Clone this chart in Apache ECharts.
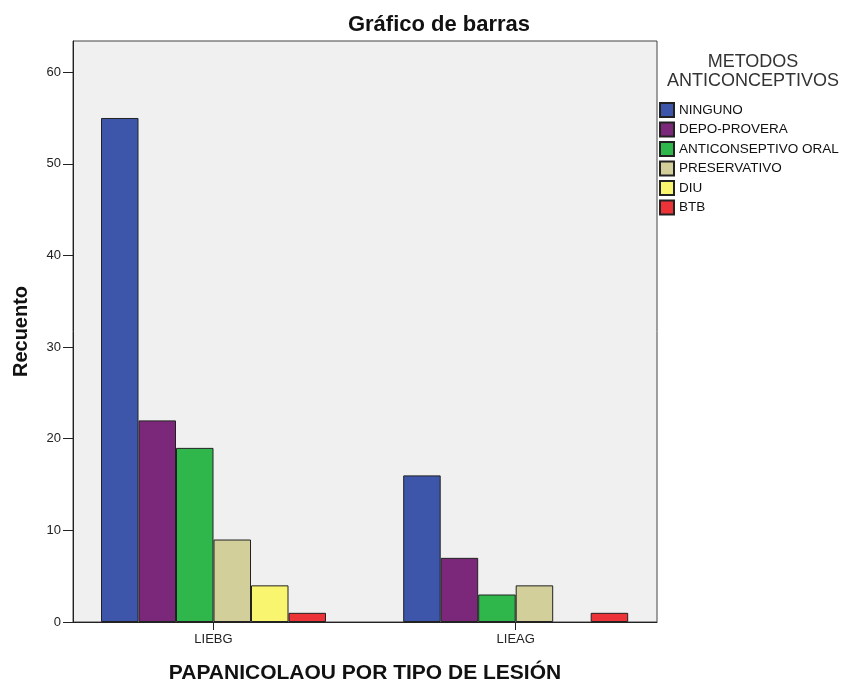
<!DOCTYPE html>
<html>
<head>
<meta charset="utf-8">
<script src="https://cdn.jsdelivr.net/npm/echarts@6/dist/echarts.min.js"></script>
<style>
html,body{margin:0;padding:0;background:#fff;}
#chart{width:849px;height:682px;}
</style>
</head>
<body>
<div id="chart"></div>
<script>
var categories = ['LIEBG', 'LIEAG'];
var seriesNames = ['NINGUNO', 'DEPO-PROVERA', 'ANTICONSEPTIVO ORAL', 'PRESERVATIVO', 'DIU', 'BTB'];
var ninguno = [55, 16];
var depoProvera = [22, 7];
var anticonseptivoOral = [19, 3];
var preservativo = [9, 4];
var diu = [4, null];
var btb = [1, 1];
var yTicks = [0, 10, 20, 30, 40, 50, 60];

var seriesData = [ninguno, depoProvera, anticonseptivoOral, preservativo, diu, btb];
var colors = ['#3d56a9', '#7c287a', '#2fb74b', '#d3cf9b', '#f9f56f', '#ec3338'];
var FONT = 'Arial, "Liberation Sans", sans-serif';

var chart = echarts.init(document.getElementById('chart'));
var option = {
  animation: false,
  textStyle: { fontFamily: FONT },
  title: [
    { text: 'Gráfico de barras', left: 434, textAlign: 'center', top: 9,
      textStyle: { fontSize: 22, fontWeight: 'bold', color: '#111', fontFamily: FONT } },
    { text: 'METODOS\nANTICONCEPTIVOS', left: 753, textAlign: 'center', top: 53, padding: 0,
      textStyle: { fontSize: 18, fontWeight: 'normal', color: '#333', lineHeight: 19, fontFamily: FONT } }
  ],
  legend: {
    orient: 'vertical', left: 659, top: 102, padding: 0,
    itemWidth: 14, itemHeight: 14, itemGap: 3.5,
    icon: 'rect',
    textStyle: { fontSize: 13.5, lineHeight: 14, color: '#111', fontFamily: FONT },
    data: seriesNames
  },
  grid: [
    { left: 73, right: 192, top: 41, bottom: 60, show: true, outerBoundsMode: 'none', containLabel: false,
      backgroundColor: '#f0f0f0', borderColor: '#444', borderWidth: 1 },
    { left: 62.4, right: 182.2, top: 41, bottom: 60, show: false, outerBoundsMode: 'none', containLabel: false }
  ],
  xAxis: [
    { gridIndex: 0, type: 'category', data: categories,
      axisLine: { show: true, lineStyle: { color: '#222', width: 1 } },
      axisTick: { show: false }, axisLabel: { show: false },
      name: 'PAPANICOLAOU POR TIPO DE LESIÓN', nameLocation: 'middle', nameGap: 41,
      nameTextStyle: { fontSize: 21, fontWeight: 'bold', color: '#111', fontFamily: FONT } },
    { gridIndex: 1, type: 'category', data: categories,
      axisLine: { show: false },
      axisTick: { show: true, alignWithLabel: true, length: 8, lineStyle: { color: '#222' } },
      axisLabel: { fontSize: 13, color: '#222', margin: 11, fontFamily: FONT } }
  ],
  yAxis: [
    { gridIndex: 0, type: 'value', min: 0, max: 63.4, interval: 10,
      axisLine: { show: true, lineStyle: { color: '#222', width: 1 } },
      axisTick: { show: true, length: 10, customValues: yTicks, lineStyle: { color: '#222' } },
      axisLabel: { fontSize: 13, color: '#222', margin: 12, customValues: yTicks, fontFamily: FONT },
      splitLine: { show: false },
      name: 'Recuento', nameLocation: 'middle', nameGap: 42,
      nameTextStyle: { fontSize: 20, fontWeight: 'bold', color: '#111', fontFamily: FONT } },
    { gridIndex: 1, type: 'value', min: 0, max: 63.4, show: false, splitLine: { show: false } }
  ],
  series: seriesNames.map(function (n, i) {
    return {
      name: n, type: 'bar', xAxisIndex: 1, yAxisIndex: 1,
      barWidth: 37.5, barGap: '0%',
      data: seriesData[i],
      itemStyle: { color: colors[i], borderColor: '#222', borderWidth: 1 }
    };
  })
};
chart.setOption(option);
</script>
</body>
</html>
